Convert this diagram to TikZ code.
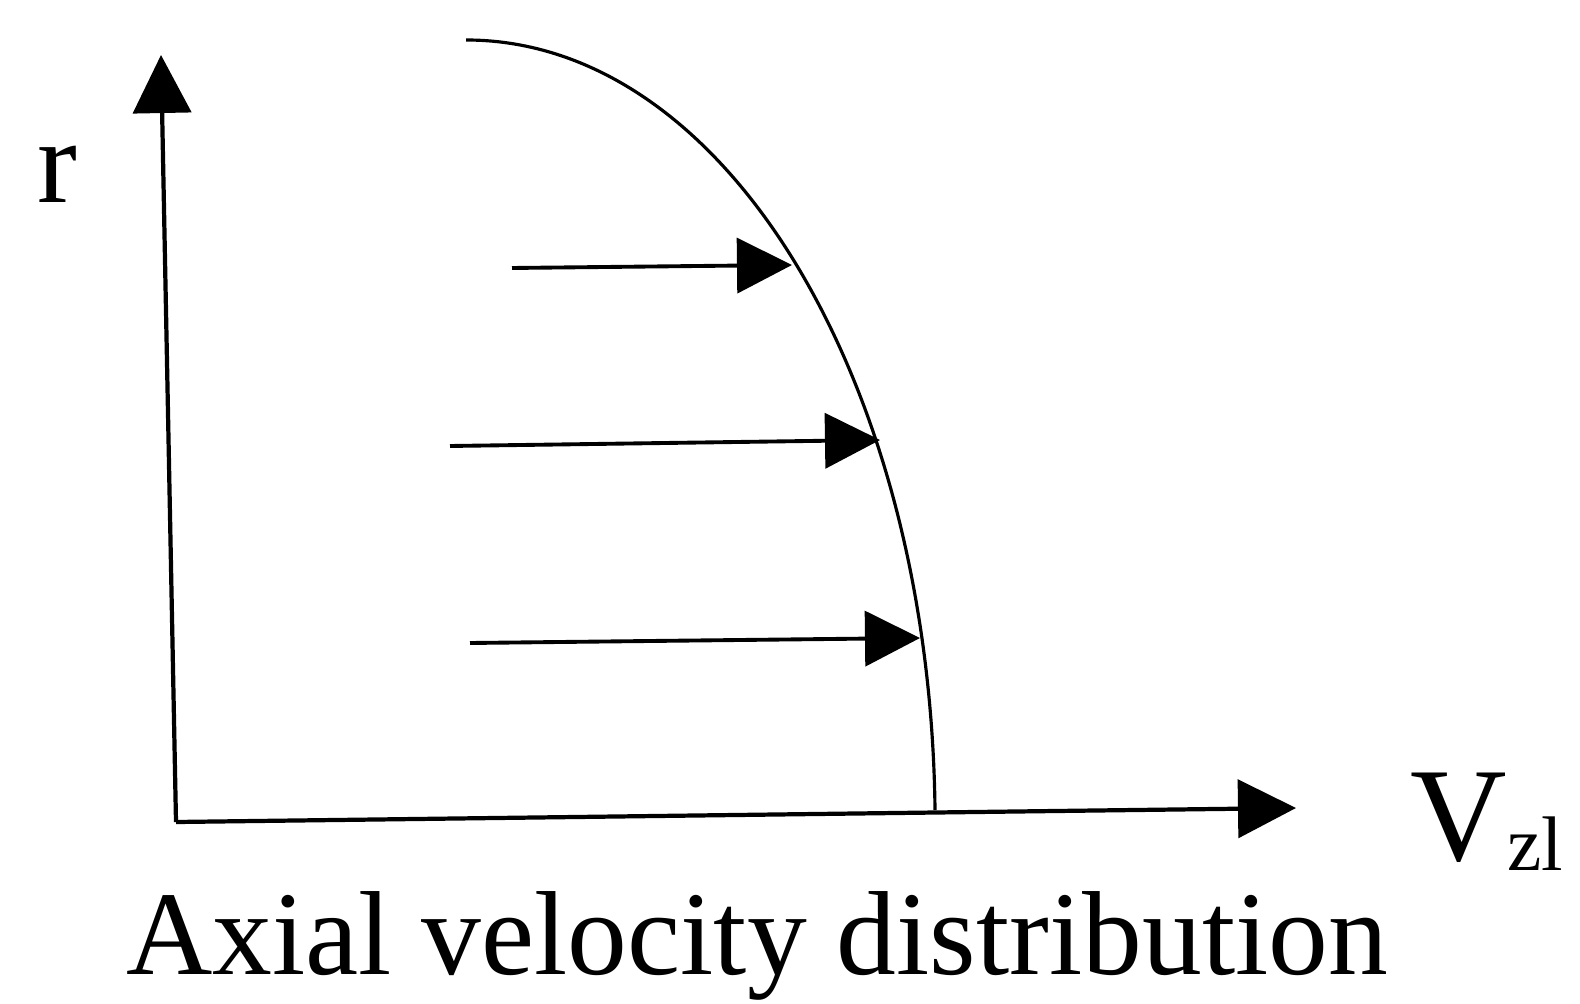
\documentclass[tikz,border=0pt]{standalone}
\usepackage{fontspec}
\setmainfont{Liberation Serif}
\usetikzlibrary{arrows.meta}
\begin{document}
\begin{tikzpicture}[x=0.01cm,y=-0.01cm,axis/.style={-{Triangle[length=0.58cm,width=0.58cm]},line width=1.2pt},flow/.style={-{Triangle[length=0.55cm,width=0.55cm]},line width=1.1pt},profile/.style={line width=0.9pt},lbl/.style={font=\fontsize{34}{40}\selectfont,inner sep=0pt}]
\useasboundingbox (0,0) rectangle (1580,1004);
\coordinate (O) at (176,822);
\coordinate (rtop) at (161,55);
\coordinate (vend) at (1296,808);
\draw[axis] (O) -- (rtop);
\draw[axis] (O) -- (vend);
% velocity profile, a quarter ellipse
\coordinate (ptop) at (466,40);
\coordinate (pwall) at (935,810);
\draw[profile] (ptop) .. controls (725,40) and (930,380) .. (pwall);
\coordinate (a1) at (512,268); \coordinate (b1) at (792,265);
\coordinate (a2) at (450,446); \coordinate (b2) at (880,440);
\coordinate (a3) at (470,643); \coordinate (b3) at (920,638);
\draw[flow] (a1) -- (b1); \draw[flow] (a2) -- (b2); \draw[flow] (a3) -- (b3);
\node[lbl,anchor=base] (r) at (57,203) {r};
\node[lbl,anchor=base west] (vzl) at (1410,860) {\fontsize{38}{44}\selectfont V\raisebox{-0.1cm}{\fontsize{22}{26}\selectfont zl}};
\node[lbl,anchor=base] (cap) at (757,974) {Axial velocity distribution};
\end{tikzpicture}
\end{document}
